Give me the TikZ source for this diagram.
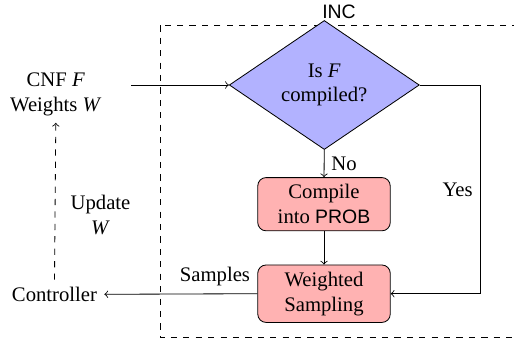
\documentclass[tikz,border=0pt]{standalone}
\usepackage{fontspec}
\setmainfont{Liberation Serif}
\setsansfont[Scale=0.94]{Liberation Sans}
\usetikzlibrary{shapes.geometric}
\tikzset{
  decision/.style={diamond, draw, fill=blue!30, minimum width=91.8pt, minimum height=45.7pt, inner sep=0pt, align=center},
  procbox/.style={rectangle, rounded corners=4pt, draw, fill=red!30, minimum width=64pt, inner sep=3.33pt, align=center},
  plain/.style={align=center, inner sep=3.33pt},
  conn/.style={->},
}
\begin{document}
\begin{tikzpicture}[x=0.4831pt,y=-0.4831pt, font=\fontsize{10}{12}\selectfont]
\useasboundingbox (0,0) rectangle (514,343);
% INC box
\draw[dashed] (160.3,25.3) rectangle (530,337.7);
\node[plain, font=\fontsize{10}{12}\sffamily] (inc) at (339,11.7) {INC};
% nodes
\node[decision] (dec) at (324.3,85) {Is \textit{F}\\compiled?};
\node[procbox] (comp) at (324,204.2) {Compile\\into \textsf{PROB}};
\node[procbox] (ws) at (324,293.7) {Weighted\\Sampling};
\node[plain] (in) at (55.8,94) {CNF \textit{F}\\Weights \textit{W}};
\node[plain] (ctrl) at (54.5,294.3) {Controller};
\node[plain] (upd) at (100.5,215) {Update\\\textit{W}};
\coordinate (inarr) at (131,85);
\coordinate (yesx) at (480,85);
% connectors
\draw[conn] (inarr) -- (dec.west);
\draw[conn] (dec.south) -- node[right] {No} (comp.north);
\draw[conn] (comp.south) -- (ws.north);
\draw[conn] (dec.east) -- (yesx) |- node[pos=0.25, left] {Yes} (ws.east);
\draw[conn] (ws.west) -- node[pos=0, above left] {Samples} (ctrl.east);
\draw[conn, dashed] (ctrl.north) -- (in.south);
\end{tikzpicture}
\end{document}
